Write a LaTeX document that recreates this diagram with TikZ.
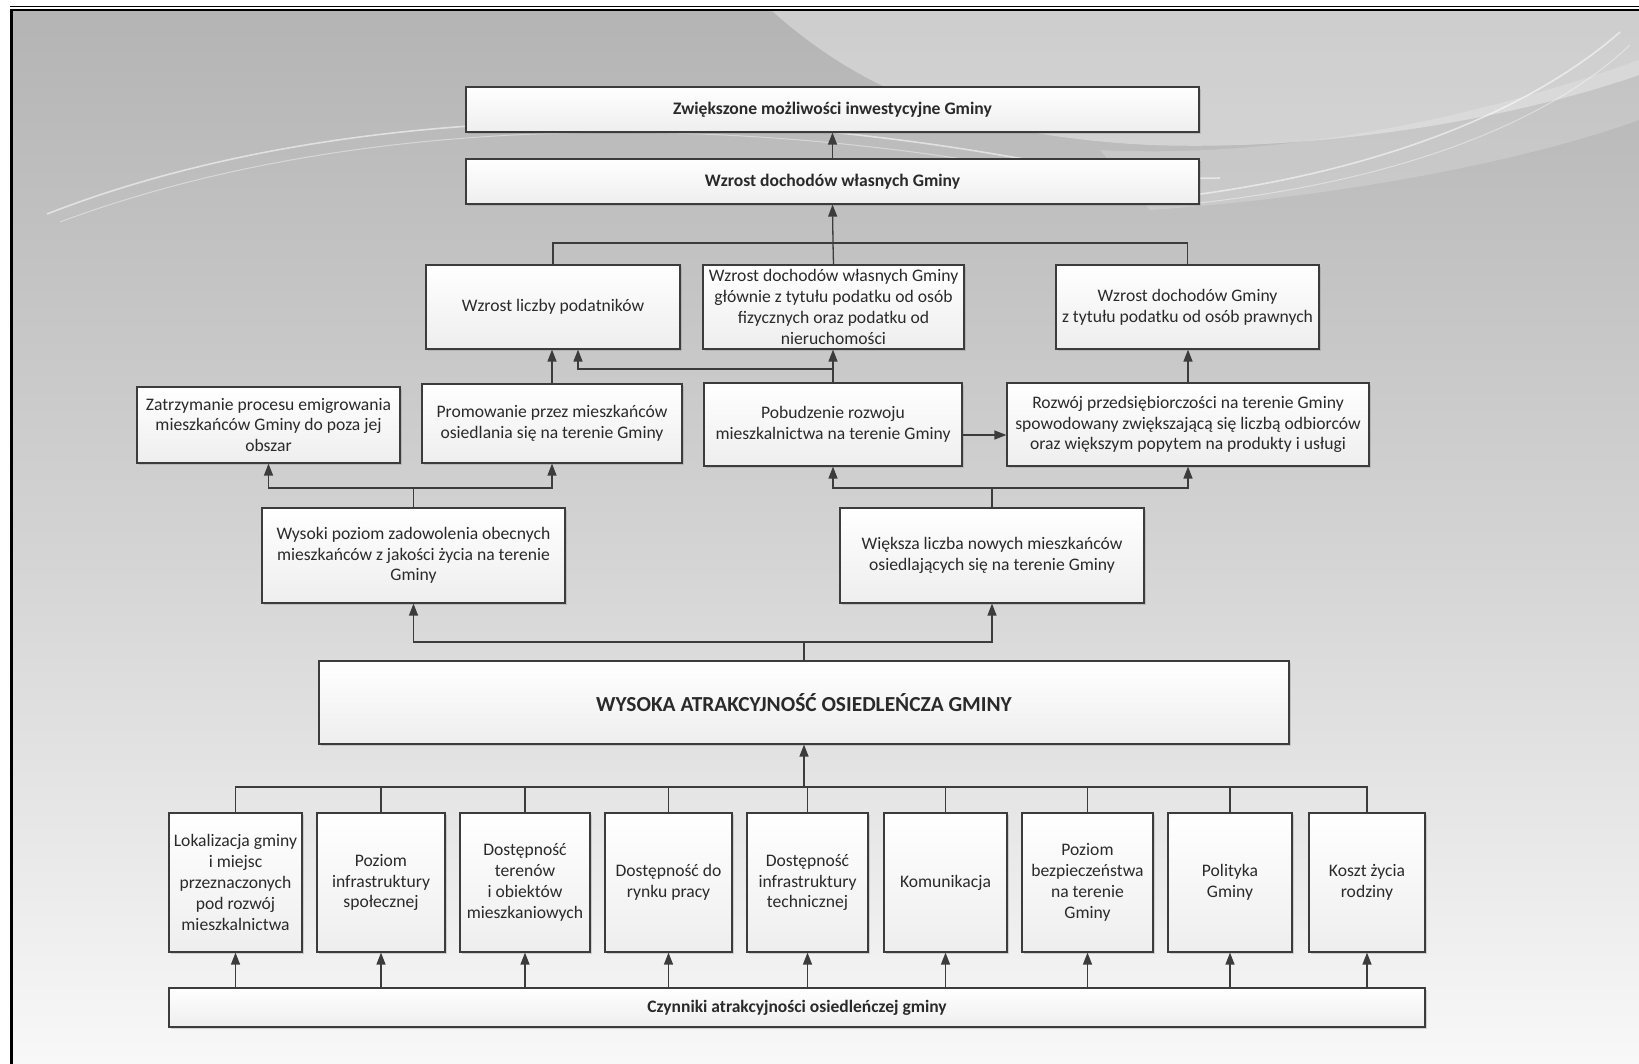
\documentclass[tikz,border=0pt]{standalone}
\usepackage{fontspec}
\setmainfont{Carlito}
\usetikzlibrary{arrows.meta,shadows,calc}
\definecolor{lnc}{HTML}{3C3C3C}
\definecolor{txt}{HTML}{2A2A2A}
\definecolor{boxbot}{HTML}{EEEEEE}
\definecolor{bgtop}{HTML}{B4B4B4}
\definecolor{bgmid}{HTML}{D3D3D3}
\definecolor{bgbot}{HTML}{F8F8F8}
\begin{document}
\begin{tikzpicture}[x=1pt,y=-1pt,
  bx/.style={draw=lnc, line width=1.2pt, top color=white, bottom color=boxbot,
    align=center, inner sep=0pt, text=txt,
    font=\fontsize{17.6}{20.8}\selectfont,
    drop shadow={shadow xshift=2pt,shadow yshift=-2pt,opacity=0.3}},
  bxb/.style={bx, font=\fontsize{17.6}{20.8}\selectfont\bfseries},
  ln/.style={draw=lnc, line width=1.3pt},
  arr/.style={ln, -{Triangle[length=12pt,width=9pt]}},
  swoosh/.style={draw=white, line width=1.6pt, opacity=0.55},
]
% background and frame
\useasboundingbox (0,0) rectangle (1639,1064);
\fill[white] (0,0) rectangle (1639,1064);
\shade[top color=bgtop, bottom color=bgbot, middle color=bgmid] (13,11) rectangle (1639,1064);
\fill[white, opacity=0.35] (772,11) .. controls (850,80) and (950,135) .. (1150,145)
   .. controls (1350,152) and (1540,110) .. (1639,75) -- (1639,11) -- cycle;
\fill[white, opacity=0.18] (1100,150) .. controls (1300,160) and (1500,110) .. (1639,60)
   -- (1639,120) .. controls (1500,170) and (1300,200) .. (1150,210) -- cycle;
\draw[swoosh] (47,214) .. controls (300,115) and (650,95) .. (1000,155)
   .. controls (1100,172) and (1180,180) .. (1220,178);
\draw[swoosh, opacity=0.4, line width=1pt] (60,222) .. controls (320,125) and (660,108) .. (1000,165);
\draw[swoosh] (1150,200) .. controls (1350,180) and (1520,120) .. (1620,32);
\draw[swoosh, opacity=0.4, line width=1pt] (1180,205) .. controls (1380,185) and (1540,130) .. (1630,45);
\draw[black, line width=1.3pt] (10,6.5) -- (1639,6.5);
\draw[black, line width=2.6pt] (10,10) -- (1639,10);
\draw[black, line width=3.5pt] (11.7,8.7) -- (11.7,1064);

% top boxes
\node[bxb, minimum width=733pt, minimum height=45pt] (z) at (832.5,109.5) {Zwiększone możliwości inwestycyjne Gminy};
\node[bxb, minimum width=733pt, minimum height=45pt] (wd) at (832.5,181.5) {Wzrost dochodów własnych Gminy};

% row 2
\node[bx, minimum width=254pt, minimum height=84pt] (p1) at (553,307) {Wzrost liczby podatników};
\node[bx, minimum width=261pt, minimum height=84pt] (p2) at (833.5,307) {Wzrost dochodów własnych Gminy\\ głównie z tytułu podatku od osób\\ fizycznych oraz podatku od\\ nieruchomości};
\node[bx, minimum width=263pt, minimum height=84pt] (p3) at (1187.5,307) {Wzrost dochodów Gminy\\ z tytułu podatku od osób prawnych};

% row 3
\node[bx, minimum width=263pt, minimum height=76pt] (r1) at (268.5,425) {Zatrzymanie procesu emigrowania\\ mieszkańców Gminy do poza jej\\ obszar};
\node[bx, minimum width=260pt, minimum height=79pt] (r2) at (552,423.5) {Promowanie przez mieszkańców\\ osiedlania się na terenie Gminy};
\node[bx, minimum width=258pt, minimum height=83pt] (r3) at (833,424.5) {Pobudzenie rozwoju\\ mieszkalnictwa na terenie Gminy};
\node[bx, minimum width=362pt, minimum height=83pt] (r4) at (1188,424.5) {Rozwój przedsiębiorczości na terenie Gminy\\ spowodowany zwiększającą się liczbą odbiorców\\ oraz większym popytem na produkty i usługi};

% row 4
\node[bx, minimum width=303pt, minimum height=95pt] (w1) at (413.5,555.5) {Wysoki poziom zadowolenia obecnych\\ mieszkańców z jakości życia na terenie\\ Gminy};
\node[bx, minimum width=304pt, minimum height=95pt] (w2) at (992,555.5) {Większa liczba nowych mieszkańców\\ osiedlających się na terenie Gminy};

% main box
\node[bx, minimum width=970pt, minimum height=83pt, font=\fontsize{21.4}{25}\selectfont\bfseries] (big) at (804,702.5) {WYSOKA ATRAKCYJNOŚĆ OSIEDLEŃCZA GMINY};

% factor boxes
\node[bx, minimum width=133pt, minimum height=139pt] (b1) at (235.5,882.5) {Lokalizacja gminy\\ i miejsc\\ przeznaczonych\\ pod rozwój\\ mieszkalnictwa};
\node[bx, minimum width=128pt, minimum height=139pt] (b2) at (381,882.5) {Poziom\\ infrastruktury\\ społecznej};
\node[bx, minimum width=130pt, minimum height=139pt] (b3) at (525,882.5) {Dostępność\\ terenów\\ i obiektów\\ mieszkaniowych};
\node[bx, minimum width=127pt, minimum height=139pt] (b4) at (668.5,882.5) {Dostępność do\\ rynku pracy};
\node[bx, minimum width=121pt, minimum height=139pt] (b5) at (807.5,882.5) {Dostępność\\ infrastruktury\\ technicznej};
\node[bx, minimum width=123pt, minimum height=139pt] (b6) at (945.5,882.5) {Komunikacja};
\node[bx, minimum width=131pt, minimum height=139pt] (b7) at (1087.5,882.5) {Poziom\\ bezpieczeństwa\\ na terenie\\ Gminy};
\node[bx, minimum width=124pt, minimum height=139pt] (b8) at (1230,882.5) {Polityka\\ Gminy};
\node[bx, minimum width=116pt, minimum height=139pt] (b9) at (1367,882.5) {Koszt życia\\ rodziny};

\node[bxb, minimum width=1256pt, minimum height=39pt, font=\fontsize{17.5}{20}\selectfont\bfseries] (bar) at (797,1007.5) {Czynniki atrakcyjności osiedleńczej gminy};

% junction coordinates
\coordinate (j1) at (833,243);
\coordinate (j2) at (578,369);
\coordinate (j2r) at (833,369);
\coordinate (ha) at (962,435);
\coordinate (j3) at (413.5,488);
\coordinate (j4) at (992,488);
\coordinate (j5) at (804,642);
\coordinate (j6) at (804,787);

% connectors
\draw[arr] (wd.north) -- (z.south);
\draw[ln] (p1.north) |- (j1) -| (p3.north);
\draw[ln] (p2.north) -- (j1);
\draw[arr] (j1) -- (wd.south);

\draw[arr] (r2.north) -- (r2.north |- p1.south);
\draw[arr] (r3.north) -- (r3.north |- p2.south);
\draw[arr] (j2r) -- (j2) -- (j2 |- p1.south);
\draw[arr] (r4.north) -- (r4.north |- p3.south);
\draw[arr] (ha) -- (ha -| r4.west);

\draw[ln] (w1.north) -- (j3);
\draw[arr] (j3) -| (r1.south);
\draw[arr] (j3) -| (r2.south);
\draw[ln] (w2.north) -- (j4);
\draw[arr] (j4) -| (r3.south);
\draw[arr] (j4) -| (r4.south);

\draw[ln] (big.north) -- (j5);
\draw[arr] (j5) -| (w1.south);
\draw[arr] (j5) -| (w2.south);

\draw[arr] (j6) -- (big.south);
\foreach \b in {b1,b2,b3,b4,b5,b6,b7,b8,b9}{
  \draw[ln] (\b.north) |- (j6);
  \draw[arr] (\b.south |- bar.north) -- (\b.south);
}
\end{tikzpicture}
\end{document}
